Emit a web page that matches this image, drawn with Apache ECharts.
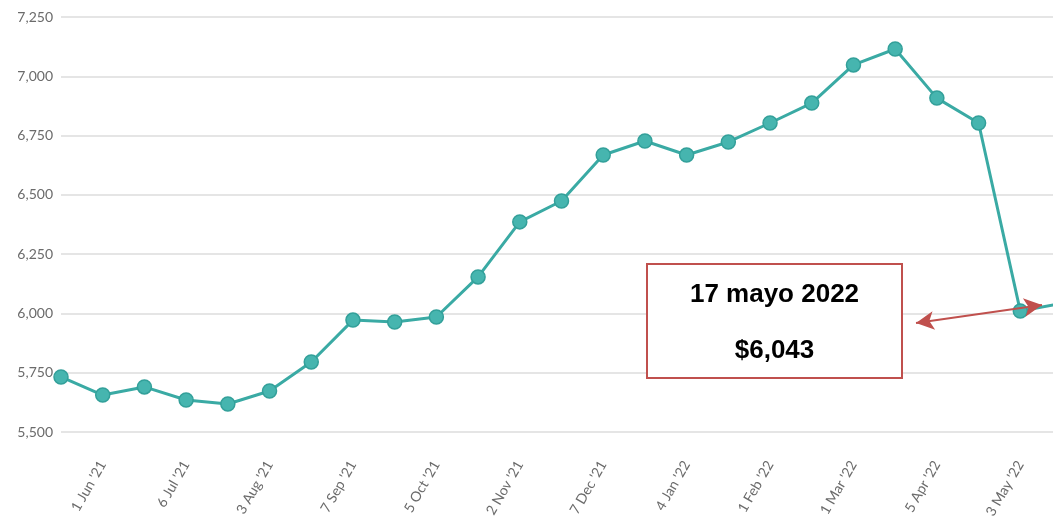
<!DOCTYPE html>
<html style="height: 100%">
<head>
 <meta charset="utf-8">
 <title>ECharts</title>
 <script src="https://cdn.jsdelivr.net/npm/echarts/dist/echarts.min.js"></script>
</head>
<body style="height: 100%; margin: 0; background: #fff">
 <div id="main" style="width: 1053px; height: 524px"></div>
 <script type="text/javascript">
 // fechas (cada dos semanas) y precios
 var dates = ["18 May '21", "1 Jun '21", "15 Jun '21", "6 Jul '21", "20 Jul '21", "3 Aug '21",
   "17 Aug '21", "7 Sep '21", "21 Sep '21", "5 Oct '21", "19 Oct '21", "2 Nov '21",
   "16 Nov '21", "7 Dec '21", "21 Dec '21", "4 Jan '22", "18 Jan '22", "1 Feb '22",
   "15 Feb '22", "1 Mar '22", "15 Mar '22", "5 Apr '22", "19 Apr '22", "3 May '22", "17 May '22"];
 var prices = [5732, 5656, 5690, 5635, 5618, 5673, 5795, 5972, 5964, 5985, 6154, 6386,
   6474, 6668, 6727, 6668, 6723, 6803, 6887, 7048, 7115, 6908, 6803, 6010, 6043];
 var yTicks = [5500, 7250, 250]; // min, max, interval

 var myChart = echarts.init(document.getElementById('main'));

 var option = {
   animation: false,
   // the last point (17 May) sits just past the right edge, like the original
   grid: { left: 61, width: 1001, top: 17, bottom: 92, outerBoundsMode: 'none' },
   xAxis: {
     type: 'category',
     data: dates,
     boundaryGap: false,
     axisLine: { show: false },
     axisTick: { show: false },
     axisLabel: {
       interval: function (i) { return i % 2 === 1; },
       rotate: 60,
       margin: 30,
       color: '#6b6b6b',
       fontFamily: 'Lato',
       fontSize: 14
     }
   },
   yAxis: {
     type: 'value',
     min: yTicks[0],
     max: yTicks[1],
     interval: yTicks[2],
     axisLine: { show: false },
     axisTick: { show: false },
     axisLabel: {
       color: '#6b6b6b',
       fontFamily: 'Lato',
       fontSize: 14,
       margin: 8,
       formatter: function (v) { return v.toLocaleString('en-US'); }
     },
     splitLine: { lineStyle: { color: '#e5e5e5', width: 2 } }
   },
   series: [{
     type: 'line',
     data: prices,
     symbol: 'circle',
     symbolSize: 14,
     lineStyle: { color: '#3aaaa4', width: 3 },
     itemStyle: { color: '#46b5af', borderColor: '#33a09a', borderWidth: 1.5 },
     markLine: {
       silent: true,
       z: 10,
       symbol: ['arrow', 'arrow'],
       symbolSize: [14, 18],
       label: { show: false },
       lineStyle: { color: '#c0504d', width: 2, type: 'solid' },
       data: [[{ x: 916, y: 323 }, { x: 1042, y: 305 }]]
     }
   }],
   graphic: [{
     type: 'group',
     left: 646,
     top: 263,
     z: 100,
     children: [
       {
         type: 'rect',
         z: 100,
         shape: { x: 0, y: 0, width: 255, height: 114 },
         style: { fill: '#fff', stroke: '#c0504d', lineWidth: 2 }
       },
       {
         type: 'text',
         z: 101,
         x: 127.5, y: 31,
         style: { text: '17 mayo 2022', font: 'bold 26px "Liberation Sans", Arial', fill: '#000', align: 'center', verticalAlign: 'middle' }
       },
       {
         type: 'text',
         z: 101,
         x: 127.5, y: 87,
         style: { text: '$6,043', font: 'bold 26px "Liberation Sans", Arial', fill: '#000', align: 'center', verticalAlign: 'middle' }
       }
     ]
   }]
 };

 myChart.setOption(option);
 </script>
</body>
</html>
